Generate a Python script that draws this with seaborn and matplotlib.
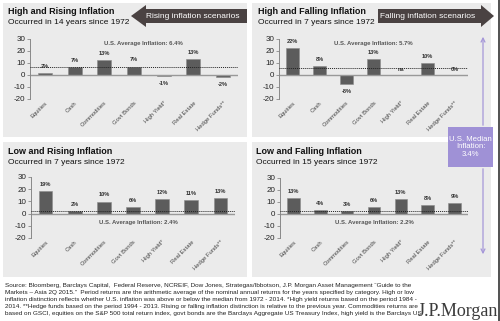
import matplotlib
matplotlib.use("Agg")
import matplotlib.pyplot as plt
import seaborn as sns
import pandas as pd
from matplotlib.patches import Rectangle, Polygon

sns.set_theme(style="white")
plt.rcParams['font.family'] = ['Liberation Sans', 'DejaVu Sans']

assets = ["Equities", "Cash", "Commodities", "Govt Bonds", "High Yield*", "Real Estate", "Hedge Funds**"]

hr_values = [1.9, 6.9, 12.6, 7.0, -0.8, 13.0, -1.9]
hr_labels = ["2%", "7%", "13%", "7%", "-1%", "13%", "-2%"]
hf_values = [22.2, 7.5, -7.6, 13.1, 0.0, 10.2, 0.0]
hf_labels = ["22%", "8%", "-8%", "13%", "na", "10%", "0%"]
lr_values = [18.6, 2.2, 9.8, 5.4, 11.6, 10.9, 12.7]
lr_labels = ["19%", "2%", "10%", "6%", "12%", "11%", "13%"]
lf_values = [13.0, 3.5, 2.7, 5.8, 12.5, 7.6, 8.8]
lf_labels = ["13%", "4%", "3%", "6%", "13%", "8%", "9%"]

titles = ["High and Rising Inflation", "High and Falling Inflation",
          "Low and Rising Inflation", "Low and Falling Inflation"]
subtitles = ["Occurred in 14 years since 1972", "Occurred in 7 years since 1972",
             "Occurred in 7 years since 1972", "Occurred in 15 years since 1972"]
avg_inflation = [6.4, 5.7, 2.4, 2.2]
yticks = [-20, -10, 0, 10, 20, 30]

footnote = [
    "Source: Bloomberg, Barclays Capital,  Federal Reserve, NCREIF, Dow Jones, Strategas/Ibbotson, J.P. Morgan Asset Management \u201cGuide to the",
    "Markets \u2013 Asia 2Q 2015.\u201d  Period returns are the arithmetic average of the nominal annual returns for the years specified by category. High or low",
    "inflation distinction reflects whether U.S. inflation was above or below the median from 1972 - 2014. *High yield returns based on the period 1984 -",
    "2014. **Hedge funds based on the period 1994 - 2013. Rising or falling inflation distinction is relative to the previous year. Commodities returns are",
    "based on GSCI, equities on the S&P 500 total return index, govt bonds are the Barclays Aggregate US Treasury Index, high yield is the Barclays US",
]

W, H = 500, 321
fig = plt.figure(figsize=(5, 3.21), dpi=100)
fig.patch.set_facecolor("white")

def px_rect(x0, y0, x1, y1):
    return [x0 / W, 1 - y1 / H, (x1 - x0) / W, (y1 - y0) / H]

# background overlay axes (pixel coordinates)
bg = fig.add_axes([0, 0, 1, 1], zorder=0)
bg.set_xlim(0, W); bg.set_ylim(H, 0); bg.axis("off")
panel_boxes = [(3, 3, 247, 137), (252, 3, 491, 137), (3, 142, 247, 277), (252, 142, 491, 277)]
for (x0, y0, x1, y1) in panel_boxes:
    bg.add_patch(Rectangle((x0, y0), x1 - x0, y1 - y0, facecolor="#ebebeb", edgecolor="none"))
bg.plot([498.5, 498.5], [0, H], color="#333333", lw=1.2)

axes_px = [(30, 39, 238, 99), (279, 39, 468, 99), (31, 177, 235, 238), (280, 178, 468, 238)]
title_px = [(8, 11), (258, 11), (8, 151), (256, 151)]
data = [(hr_values, hr_labels), (hf_values, hf_labels), (lr_values, lr_labels), (lf_values, lf_labels)]
avg_pos = [(3.3, 26), (3.0, 26), (3.2, -7), (3.0, -7)]

for i in range(4):
    vals, labs = data[i]
    x0, y0, x1, y1 = axes_px[i]
    ax = fig.add_axes(px_rect(x0, y0, x1, y1), zorder=2)
    ax.set_facecolor("none")
    df = pd.DataFrame({"asset": assets, "ret": vals})
    sns.barplot(data=df, x="asset", y="ret", color="#5c5c5c", saturation=1,
                width=0.47, edgecolor="#8a8a8a", linewidth=0.4, ax=ax)
    ax.set_xlim(-0.5, 6.5)
    ax.set_ylim(-20, 30)
    ax.set_yticks(yticks)
    ax.set_yticklabels([str(t) for t in yticks], fontsize=5.8, color="#222222")
    ax.tick_params(axis="y", length=2, width=0.6, color="#888888", pad=1.5, direction="out", left=True)
    ax.tick_params(axis="x", length=0, pad=1)
    ax.set_xticks(range(len(assets)))
    ax.set_xticklabels(assets, rotation=45, ha="right", rotation_mode="anchor",
                       fontsize=4.2, color="#444444")
    ax.set_xlabel(""); ax.set_ylabel("")
    for s in ["top", "right", "bottom"]:
        ax.spines[s].set_visible(False)
    ax.spines["left"].set_color("#888888")
    ax.spines["left"].set_linewidth(0.7)
    ax.axhline(0, color="#999999", lw=1.0, zorder=1)
    ax.axhline(avg_inflation[i], color="#222222", lw=0.7, ls=(0, (1, 1)), zorder=3)
    for j, (v, lab) in enumerate(zip(vals, labs)):
        if v > 0.5:
            ty = v + 5.5
        elif v < -0.5:
            ty = v - 6.3
        else:
            ty = 4.6
        ax.text(j, ty, lab, ha="center", va="center", fontsize=4.1,
                fontweight="bold", color="#333333")
    ax_x, ax_y = avg_pos[i]
    ax.text(ax_x, ax_y, f"U.S. Average Inflation: {avg_inflation[i]}%", ha="center",
            va="center", fontsize=4.3, fontweight="bold", color="#555555")
    tx, ty = title_px[i]
    bg.text(tx, ty, titles[i], fontsize=6.5, fontweight="bold", color="#111111",
            ha="left", va="center")
    bg.text(tx, ty + 11, subtitles[i], fontsize=6, color="#111111", ha="left", va="center")

# overlay for arrows and median box
ov = fig.add_axes([0, 0, 1, 1], zorder=5)
ov.set_xlim(0, W); ov.set_ylim(H, 0); ov.axis("off")
ov.patch.set_alpha(0)
arrow_col = "#4a4242"
ov.add_patch(Polygon([(131, 16), (146, 5), (146, 9), (247, 9), (247, 23), (146, 23), (146, 27)],
                     closed=True, facecolor=arrow_col, edgecolor="none"))
ov.text(193, 16, "Rising inflation scenarios", color="white", fontsize=6, ha="center", va="center")
ov.add_patch(Polygon([(378, 9), (481, 9), (481, 5), (494, 16), (481, 27), (481, 23), (378, 23)],
                     closed=True, facecolor=arrow_col, edgecolor="none"))
ov.text(428, 16, "Falling inflation scenarios", color="white", fontsize=6, ha="center", va="center")

purple_line = "#a597d8"
ov.annotate("", xy=(483, 34), xytext=(483, 128),
            arrowprops=dict(arrowstyle="->", color=purple_line, lw=0.9, mutation_scale=7))
ov.annotate("", xy=(483, 257), xytext=(483, 166),
            arrowprops=dict(arrowstyle="->", color=purple_line, lw=0.9, mutation_scale=7))
ov.add_patch(Rectangle((448, 127), 45, 40, facecolor="#9f91d6", edgecolor="none"))
ov.text(470.5, 147, "U.S. Median\nInflation:\n3.4%", color="white", fontsize=5.6,
        ha="center", va="center", linespacing=1.15)

# footnote
for k, line in enumerate(footnote):
    ov.text(5, 286 + k * 6.8, line, fontsize=4.55, color="#222222", ha="left", va="center")
ov.text(458, 311, "J.P.Morgan", fontsize=13, color="#3b3b3b", ha="center", va="center",
        family=["Liberation Serif", "DejaVu Serif"])

fig.savefig("out.png", dpi=100)
